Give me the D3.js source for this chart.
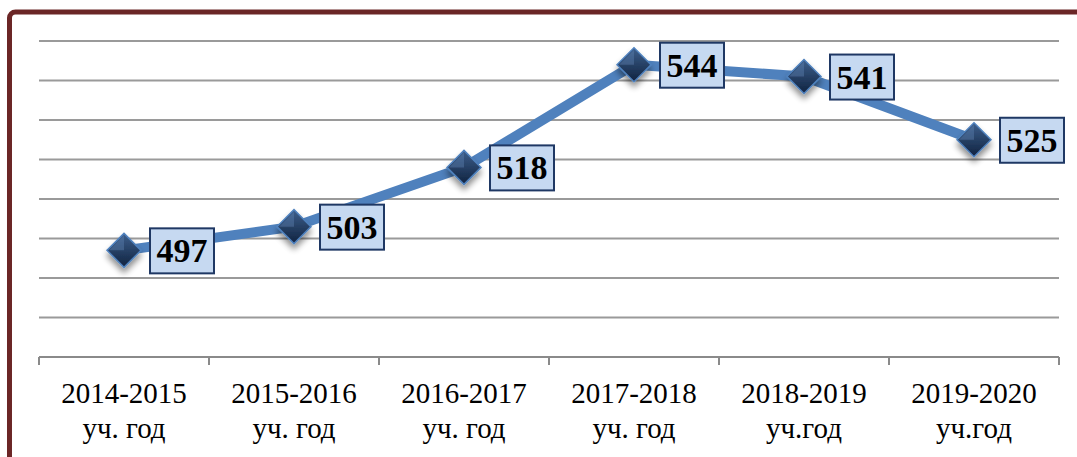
<!DOCTYPE html>
<html>
<head>
<meta charset="utf-8">
<script src="https://cdn.jsdelivr.net/npm/d3@7"></script>
<style>
  body { margin: 0; background: #fff; }
  svg { display: block; }
  .lbl { font-family: "Liberation Serif", "Times New Roman", serif; }
</style>
</head>
<body>
<svg width="1077" height="457"></svg>
<script>
const years = ["2014-2015", "2015-2016", "2016-2017", "2017-2018", "2018-2019", "2019-2020"];
const suffixes = ["уч. год", "уч. год", "уч. год", "уч. год", "уч.год", "уч.год"];
const students = [497, 503, 518, 544, 541, 525];
const yTicks = [470, 480, 490, 500, 510, 520, 530, 540, 550];

const svg = d3.select("svg");

// frame (clipped on the right and bottom)
svg.append("rect")
   .attr("x", 9.5).attr("y", 12)
   .attr("width", 1200).attr("height", 600)
   .attr("rx", 6)
   .attr("fill", "none")
   .attr("stroke", "#6b2626")
   .attr("stroke-width", 5);

const plotL = 39, plotR = 1059, plotT = 41, plotB = 357;

const x = d3.scaleBand().domain(years).range([plotL, plotR]);
const y = d3.scaleLinear().domain([470, 550]).range([plotB, plotT]);

const defs = svg.append("defs");
const grad = defs.append("linearGradient").attr("id", "mk")
   .attr("x1", 0).attr("y1", 0).attr("x2", 0).attr("y2", 1);
grad.append("stop").attr("offset", 0).attr("stop-color", "#3d5f8c");
grad.append("stop").attr("offset", 1).attr("stop-color", "#10223f");
const sh = defs.append("filter").attr("id", "sh")
   .attr("x", "-50%").attr("y", "-50%").attr("width", "200%").attr("height", "200%");
sh.append("feGaussianBlur").attr("in", "SourceAlpha").attr("stdDeviation", 3);
sh.append("feOffset").attr("dy", 5).attr("result", "b");
sh.append("feComponentTransfer").append("feFuncA").attr("type", "linear").attr("slope", 0.45);
const m = sh.append("feMerge");
m.append("feMergeNode");
m.append("feMergeNode").attr("in", "SourceGraphic");

// grid
svg.append("g").selectAll("line")
   .data(yTicks.filter(d => d > 470))
   .enter().append("line")
   .attr("x1", plotL).attr("x2", plotR)
   .attr("y1", d => y(d)).attr("y2", d => y(d))
   .attr("stroke", "#9a9a9a").attr("stroke-width", 2);

// x axis
const xAxis = d3.axisBottom(x).tickSize(0).tickFormat("");
const gx = svg.append("g").attr("transform", "translate(0," + plotB + ")").call(xAxis);
gx.select(".domain").remove();
gx.append("line").attr("x1", plotL).attr("x2", plotR)
   .attr("stroke", "#8a8a8a").attr("stroke-width", 2);
gx.selectAll(".sep")
   .data(years.map(d => x(d)).concat([plotR]))
   .enter().append("line")
   .attr("x1", d => d).attr("x2", d => d)
   .attr("y1", 0).attr("y2", 8)
   .attr("stroke", "#8a8a8a").attr("stroke-width", 2);

const labels = svg.append("g").attr("class", "lbl")
   .attr("font-size", 29).attr("fill", "#000").attr("text-anchor", "middle");
labels.selectAll(".yr").data(years).enter().append("text")
   .attr("x", d => x(d) + x.bandwidth() / 2).attr("y", 403)
   .text(d => d);
labels.selectAll(".sf").data(suffixes).enter().append("text")
   .attr("x", (d, i) => x(years[i]) + x.bandwidth() / 2).attr("y", 438)
   .text(d => d);

// line
const cx = (d, i) => x(years[i]) + x.bandwidth() / 2;
svg.append("path")
   .datum(students)
   .attr("fill", "none")
   .attr("stroke", "#4f81bd")
   .attr("stroke-width", 10)
   .attr("stroke-linejoin", "round")
   .attr("d", d3.line().x(cx).y(d => y(d)));

// markers
const mk = svg.append("g").selectAll("g")
   .data(students).enter().append("g")
   .attr("transform", (d, i) => "translate(" + cx(d, i) + "," + y(d) + ")")
   .attr("filter", "url(#sh)");
mk.append("path")
   .attr("d", "M0,-17L17,0L0,17L-17,0Z")
   .attr("fill", "url(#mk)")
   .attr("stroke", "#4f81bd")
   .attr("stroke-width", 1.5);
mk.append("path")
   .attr("d", "M0,-15L-15,0L0,0Z")
   .attr("fill", "#5a7fae").attr("opacity", 0.45);

// value boxes
const box = svg.append("g").selectAll("g")
   .data(students).enter().append("g")
   .attr("transform", (d, i) => "translate(" + (cx(d, i) + 26) + "," + y(d) + ")");
box.append("rect")
   .attr("x", 0).attr("y", -22)
   .attr("width", 64).attr("height", 45)
   .attr("fill", "#c6d9f1")
   .attr("stroke", "#1f3864")
   .attr("stroke-width", 2);
box.append("text")
   .attr("class", "lbl")
   .attr("x", 32).attr("y", 12)
   .attr("text-anchor", "middle")
   .attr("font-weight", "bold")
   .attr("font-size", 34)
   .text(d => d);
</script>
</body>
</html>
